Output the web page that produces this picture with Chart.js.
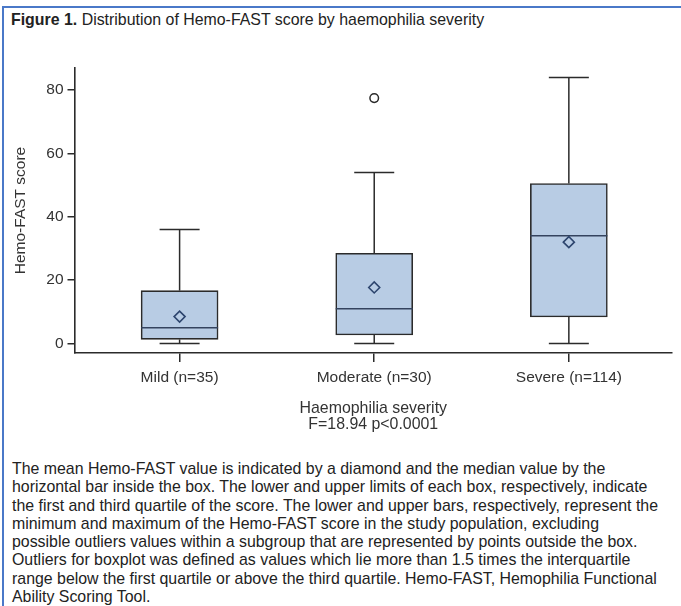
<!DOCTYPE html>
<html>
<head>
<meta charset="utf-8">
<title>Figure 1</title>
<script src="https://cdn.jsdelivr.net/npm/chart.js@4"></script>
<style>
  html, body { margin: 0; padding: 0; background: #fff; }
  body { width: 681px; height: 606px; position: relative; overflow: hidden;
         font-family: "Liberation Sans", Arial, sans-serif; color: #222; }
  .rule-top  { position: absolute; left: 2px; top: 6px; width: 679px; height: 2px; background: #4a78c8; }
  .rule-left { position: absolute; left: 2px; top: 6px; width: 2px; height: 600px; background: #4a78c8; }
  #heading { position: absolute; left: 11px; top: 11px; font-size: 15.9px; line-height: 18px; white-space: nowrap; }
  #plot { position: absolute; left: 0; top: 0; }
  #note { position: absolute; left: 12px; top: 460px; font-size: 15.9px; line-height: 18.3px; white-space: nowrap; }
</style>
</head>
<body>
<div class="rule-top"></div>
<div class="rule-left"></div>
<div id="heading"><b>Figure 1.</b> Distribution of Hemo-FAST score by haemophilia severity</div>
<canvas id="plot" width="681" height="450"></canvas>
<div id="note">The mean Hemo-FAST value is indicated by a diamond and the median value by the<br>horizontal bar inside the box. The lower and upper limits of each box, respectively, indicate<br>the first and third quartile of the score. The lower and upper bars, respectively, represent the<br>minimum and maximum of the Hemo-FAST score in the study population, excluding<br>possible outliers values within a subgroup that are represented by points outside the box.<br>Outliers for boxplot was defined as values which lie more than 1.5 times the interquartile<br>range below the first quartile or above the third quartile. Hemo-FAST, Hemophilia Functional<br>Ability Scoring Tool.</div>

<script>
// Severity groups and their Hemo-FAST score summaries
const categories   = ['Mild (n=35)', 'Moderate (n=30)', 'Severe (n=114)'];
const positions    = [1, 2, 3];
const whiskerLow   = [0, 0, 0];
const quartile1    = [1.3, 2.7, 8.4];
const medians      = [5, 11, 34];
const quartile3    = [16.7, 28.5, 50.5];
const whiskerHigh  = [36, 54, 84];
const means        = [8.5, 17.7, 32];
const outliers     = [[], [77.5], []];
const yTickValues  = [0, 20, 40, 60, 80];

const FONT = '"Liberation Sans", Arial, sans-serif';
const INK = '#2b2b2b';

// Whiskers, caps and median lines drawn through the chart scales
const boxWhiskers = {
  id: 'boxWhiskers',
  afterDatasetDraw(chart, args) {
    if (args.index !== 0) return;
    const { ctx, scales: { x, y } } = chart;
    const capHalf = 20;
    const boxHalf = 38.5;
    ctx.save();
    ctx.strokeStyle = INK;
    ctx.lineWidth = 1.5;
    const seg = (x0, y0, x1, y1) => { ctx.beginPath(); ctx.moveTo(x0, y0); ctx.lineTo(x1, y1); ctx.stroke(); };
    positions.forEach((p, i) => {
      const cx = x.getPixelForValue(p);
      // upper whisker and cap
      seg(cx, y.getPixelForValue(quartile3[i]), cx, y.getPixelForValue(whiskerHigh[i]));
      seg(cx - capHalf, y.getPixelForValue(whiskerHigh[i]), cx + capHalf, y.getPixelForValue(whiskerHigh[i]));
      // lower whisker and cap
      seg(cx, y.getPixelForValue(quartile1[i]), cx, y.getPixelForValue(whiskerLow[i]));
      seg(cx - capHalf, y.getPixelForValue(whiskerLow[i]), cx + capHalf, y.getPixelForValue(whiskerLow[i]));
      // median
      ctx.save();
      ctx.strokeStyle = '#34435e';
      seg(cx - boxHalf, y.getPixelForValue(medians[i]), cx + boxHalf, y.getPixelForValue(medians[i]));
      ctx.restore();
    });
    ctx.restore();
  }
};

const boxData = positions.map((p, i) => ({ x: p, y: [quartile1[i], quartile3[i]] }));
const meanData = positions.map((p, i) => ({ x: p, y: means[i] }));
const outlierData = [];
outliers.forEach((list, i) => list.forEach(v => outlierData.push({ x: positions[i], y: v })));

new Chart(document.getElementById('plot'), {
  type: 'bar',
  data: {
    datasets: [
      {
        type: 'bar',
        label: 'Interquartile range',
        data: boxData,
        backgroundColor: '#b8cce4',
        borderColor: INK,
        borderWidth: 1.6,
        borderSkipped: false,
        barThickness: 77,
        order: 2
      },
      {
        type: 'line',
        label: 'Mean',
        data: meanData,
        showLine: false,
        pointStyle: 'rectRot',
        pointRadius: 5.5,
        pointBorderWidth: 1.6,
        pointBorderColor: '#2d456e',
        pointBackgroundColor: 'rgba(0,0,0,0)',
        order: 0
      },
      {
        type: 'line',
        label: 'Outliers',
        data: outlierData,
        showLine: false,
        pointStyle: 'circle',
        pointRadius: 4.3,
        pointBorderWidth: 1.5,
        pointBorderColor: INK,
        pointBackgroundColor: '#ffffff',
        order: 0
      }
    ]
  },
  options: {
    responsive: false,
    devicePixelRatio: 1,
    animation: false,
    layout: { padding: { top: 68, right: 9, left: 0, bottom: 0 } },
    plugins: { legend: { display: false }, tooltip: { enabled: false } },
    scales: {
      x: {
        type: 'linear',
        offset: false,
        min: 0.46,
        max: 3.53,
        afterBuildTicks: s => { s.ticks = positions.map(v => ({ value: v })); },
        afterFit: s => { s.height = 97; },
        ticks: {
          callback: (v, idx) => categories[idx],
          font: { family: FONT, size: 15.5 },
          color: '#333',
          padding: 6,
          autoSkip: false,
          maxRotation: 0
        },
        grid: { offset: false, drawOnChartArea: false, drawTicks: true, tickLength: 9, color: INK, lineWidth: 1.5 },
        border: { display: true, color: INK, width: 1.6 },
        title: {
          display: true,
          text: ['Haemophilia severity', 'F=18.94 p<0.0001'],
          font: { family: FONT, size: 15.9, lineHeight: 1.05 },
          color: '#333',
          padding: { top: 0, bottom: 16.8 }
        }
      },
      y: {
        type: 'linear',
        min: -3,
        max: 87,
        afterBuildTicks: s => { s.ticks = yTickValues.map(v => ({ value: v })); },
        afterFit: s => { s.width = 74.5; },
        ticks: { font: { family: FONT, size: 15.5 }, color: '#333', padding: 4 },
        grid: { drawOnChartArea: false, drawTicks: true, tickLength: 7, color: INK, lineWidth: 1.5 },
        border: { display: true, color: INK, width: 1.6 },
        title: {
          display: true,
          text: 'Hemo-FAST score',
          font: { family: FONT, size: 15.5 },
          color: '#333',
          padding: { top: 11, bottom: 0 }
        }
      }
    }
  },
  plugins: [boxWhiskers]
});
</script>
</body>
</html>
